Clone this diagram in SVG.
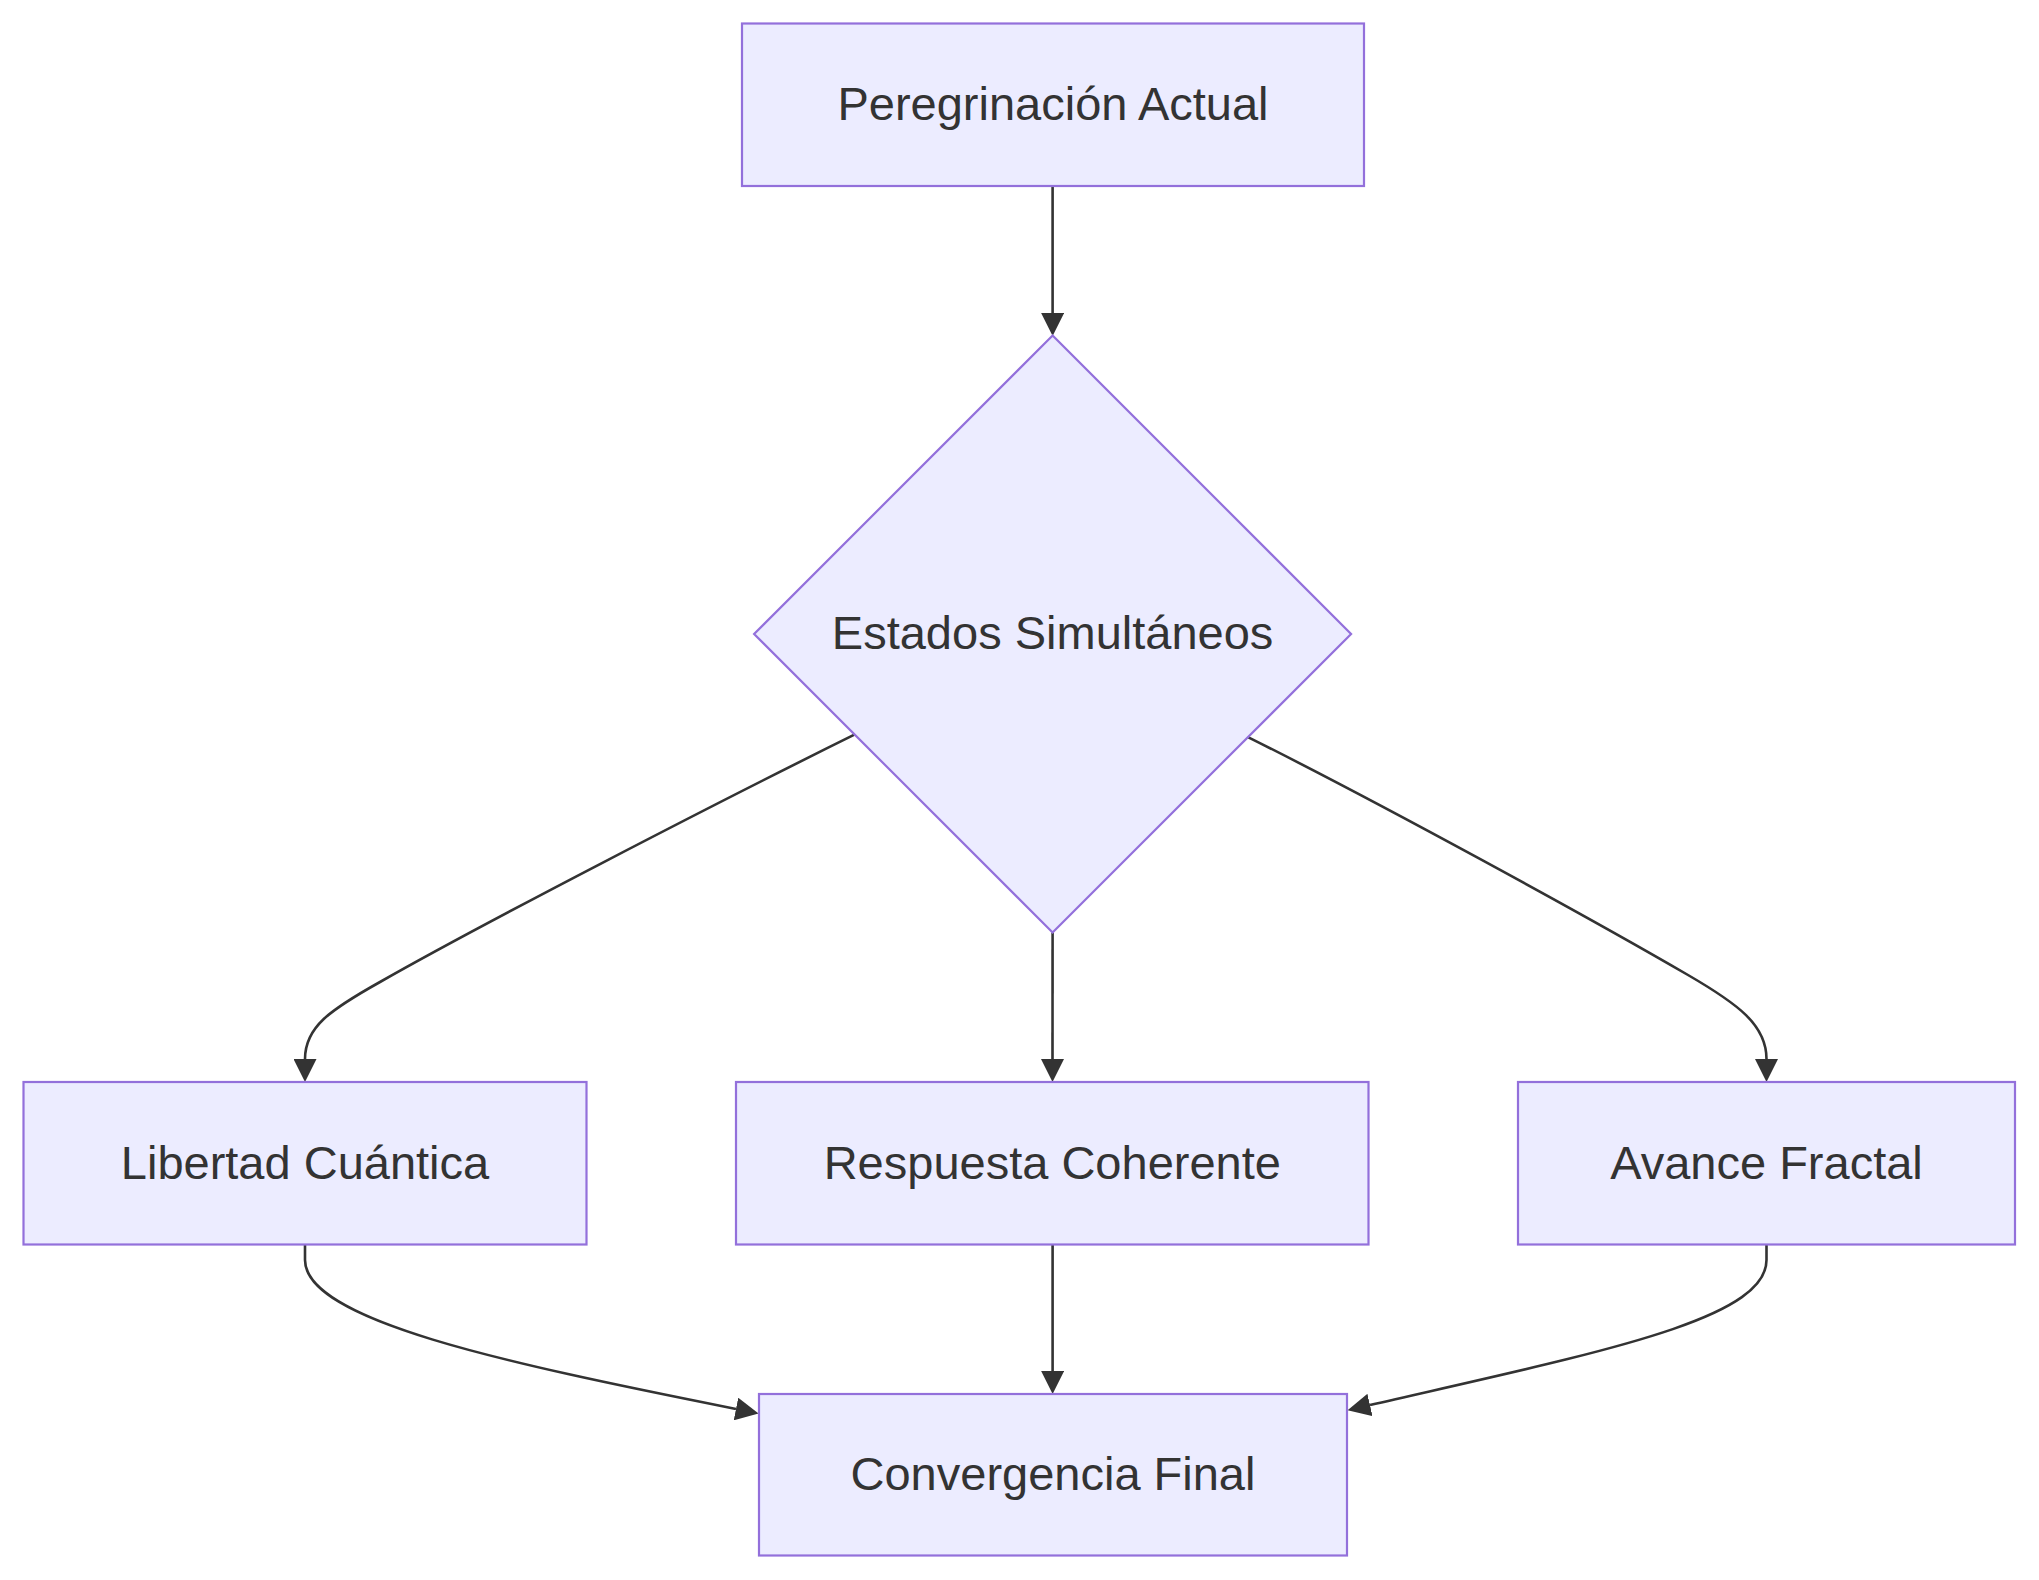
<svg xmlns="http://www.w3.org/2000/svg" width="2039" height="1580" viewBox="0 0 2039 1580">
<style>
.node rect, .node polygon { fill: #ECECFF; stroke: #9370DB; stroke-width: 2.2; }
.node text { font-family: "Liberation Sans", Arial, sans-serif; font-size: 47px; fill: #333333; text-anchor: middle; }
.edge { fill: none; stroke: #333333; stroke-width: 2.6; }
</style>
<defs>
<marker id="arrow" viewBox="0 0 10 10" refX="0" refY="5" markerUnits="userSpaceOnUse" markerWidth="23" markerHeight="23" orient="auto">
<path d="M0,0 L10,5 L0,10 z" fill="#333333"/>
</marker>
</defs>
<rect x="0" y="0" width="2039" height="1580" fill="#ffffff"/>
<g id="connectors">
<path class="edge" marker-end="url(#arrow)" d="M1052.6,186 L1052.6,313"/>
<path class="edge" marker-end="url(#arrow)" d="M854.4,734.7 C720,801 480,925 380,982 C330,1010 305,1027 305,1059"/>
<path class="edge" marker-end="url(#arrow)" d="M1052.6,932.5 L1052.5,1059"/>
<path class="edge" marker-end="url(#arrow)" d="M1248.4,737.3 C1380,803 1590,918 1688,975 C1738,1004 1766.5,1025 1766.5,1059"/>
<path class="edge" marker-end="url(#arrow)" d="M305,1244.5 L305,1260 C305,1320 500,1362 736,1409"/>
<path class="edge" marker-end="url(#arrow)" d="M1052.6,1244.5 L1052.6,1371"/>
<path class="edge" marker-end="url(#arrow)" d="M1766.5,1244.5 L1766.5,1260 C1766.5,1320 1600,1352 1370,1405"/>
</g>
<g id="node-peregrinacion" class="node">
<rect x="742" y="23.5" width="622" height="162.5"/>
<text x="1053" y="120.2">Peregrinación Actual</text>
</g>
<g id="node-estados" class="node">
<polygon points="1052.6,335.5 1351.1,634 1052.6,932.5 754.1,634"/>
<text x="1052.6" y="649.3">Estados Simultáneos</text>
</g>
<g id="node-libertad" class="node">
<rect x="23.5" y="1082" width="563" height="162.5"/>
<text x="305" y="1178.7">Libertad Cuántica</text>
</g>
<g id="node-respuesta" class="node">
<rect x="736" y="1082" width="632.5" height="162.5"/>
<text x="1052.3" y="1178.7">Respuesta Coherente</text>
</g>
<g id="node-avance" class="node">
<rect x="1518" y="1082" width="497" height="162.5"/>
<text x="1766.5" y="1178.7">Avance Fractal</text>
</g>
<g id="node-convergencia" class="node">
<rect x="759" y="1394" width="588" height="161.5"/>
<text x="1053" y="1490">Convergencia Final</text>
</g>
</svg>
